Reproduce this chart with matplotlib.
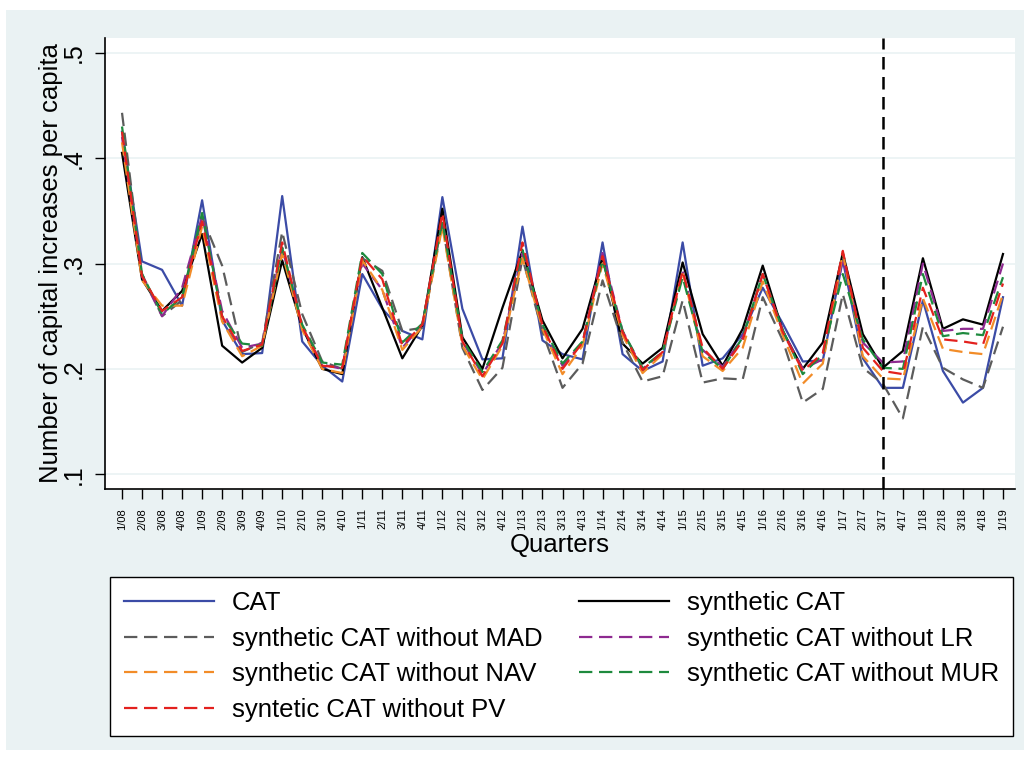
import matplotlib
matplotlib.use("Agg")
from matplotlib import pyplot as plt
from matplotlib.patches import Rectangle

plt.rcParams['font.family'] = ['Liberation Sans', 'DejaVu Sans']

quarters = ['1/08', '2/08', '3/08', '4/08', '1/09', '2/09', '3/09', '4/09',
            '1/10', '2/10', '3/10', '4/10', '1/11', '2/11', '3/11', '4/11',
            '1/12', '2/12', '3/12', '4/12', '1/13', '2/13', '3/13', '4/13',
            '1/14', '2/14', '3/14', '4/14', '1/15', '2/15', '3/15', '4/15',
            '1/16', '2/16', '3/16', '4/16', '1/17', '2/17', '3/17', '4/17',
            '1/18', '2/18', '3/18', '4/18', '1/19']

cat = [.425, .302, .294, .260, .360, .246, .214, .215, .364, .226, .203, .188,
       .290, .257, .236, .228, .363, .257, .209, .210, .335, .227, .214, .209,
       .320, .214, .198, .207, .320, .203, .210, .233, .277, .243, .207, .208,
       .303, .210, .182, .182, .265, .198, .168, .182, .268]
synth = [.405, .285, .255, .274, .328, .222, .206, .220, .303, .239, .200, .195,
         .306, .258, .210, .241, .352, .230, .200, .258, .312, .246, .210, .238,
         .306, .224, .205, .220, .301, .233, .203, .238, .298, .236, .200, .225,
         .310, .233, .201, .217, .305, .238, .247, .242, .309]
no_mad = [.443, .290, .250, .265, .344, .298, .216, .225, .330, .252, .207, .200,
          .305, .293, .236, .239, .338, .220, .180, .201, .305, .235, .182, .205,
          .284, .225, .188, .193, .265, .187, .191, .190, .268, .227, .168, .181,
          .271, .201, .186, .153, .240, .201, .190, .182, .240]
no_lr = [.420, .288, .250, .277, .345, .255, .220, .224, .315, .240, .204, .200,
         .300, .275, .220, .242, .340, .226, .195, .225, .310, .240, .203, .225,
         .310, .236, .200, .216, .293, .218, .202, .230, .290, .236, .200, .209,
         .305, .225, .206, .207, .300, .236, .238, .238, .300]
no_nav = [.415, .284, .260, .260, .335, .245, .212, .222, .310, .237, .200, .196,
          .303, .275, .218, .240, .335, .222, .190, .222, .305, .238, .195, .222,
          .300, .232, .196, .214, .292, .212, .198, .220, .283, .232, .186, .205,
          .310, .212, .191, .190, .267, .219, .216, .214, .271]
no_mur = [.430, .290, .252, .268, .348, .250, .224, .222, .315, .242, .206, .204,
          .310, .290, .225, .243, .340, .228, .197, .227, .313, .242, .205, .226,
          .303, .236, .201, .216, .287, .216, .200, .230, .290, .237, .195, .214,
          .290, .228, .201, .200, .290, .231, .234, .232, .287]
no_pv = [.425, .288, .255, .268, .340, .250, .217, .223, .320, .240, .203, .201,
         .307, .285, .222, .242, .348, .226, .193, .224, .320, .241, .200, .225,
         .307, .235, .199, .216, .293, .220, .200, .227, .290, .235, .198, .215,
         .312, .220, .198, .195, .277, .228, .226, .223, .281]

treat_idx = quarters.index('3/17')
x = list(range(len(quarters)))

W, H = 1032, 758
fig = plt.figure(figsize=(W / 100, H / 100), dpi=100, facecolor='white')
fig.patches.append(Rectangle((6 / W, 8 / H), 1018 / W, 740 / H, transform=fig.transFigure,
                             facecolor='#EAF2F3', edgecolor='none', zorder=-10))

ax = fig.add_axes([105 / W, 1 - 489 / H, 910 / W, 451 / H])
ax.set_facecolor('white')

lw = 1.6
dash = (6, 3)
h_cat, = ax.plot(x, cat, color='#3B4BA6', lw=lw, label='CAT')
h_syn, = ax.plot(x, synth, color='black', lw=lw, label='synthetic CAT')
h_mad, = ax.plot(x, no_mad, color='#5C5C5C', lw=lw, dashes=dash, label='synthetic CAT without MAD')
h_lr, = ax.plot(x, no_lr, color='#8E2A90', lw=lw, dashes=dash, label='synthetic CAT without LR')
h_nav, = ax.plot(x, no_nav, color='#F28C28', lw=lw, dashes=dash, label='synthetic CAT without NAV')
h_mur, = ax.plot(x, no_mur, color='#1E8A3E', lw=lw, dashes=dash, label='synthetic CAT without MUR')
h_pv, = ax.plot(x, no_pv, color='#E3211E', lw=lw, dashes=dash, label='syntetic CAT without PV')

ax.axvline(treat_idx, color='black', lw=1.8, dashes=(5, 3))

ax.set_xlim(-0.85, 44.6)
ax.set_ylim(0.086, 0.514)
ax.set_yticks([.1, .2, .3, .4, .5])
ax.set_yticklabels(['.1', '.2', '.3', '.4', '.5'], rotation=90, va='center', fontsize=18)
ax.set_xticks(x)
ax.set_xticklabels(quarters, rotation=90, fontsize=8)
ax.tick_params(axis='both', direction='out', length=7, width=1, color='black')
ax.tick_params(axis='y', pad=7)
ax.tick_params(axis='x', pad=7)
ax.grid(axis='y', color='#EAF2F3', lw=1.2)
ax.set_axisbelow(True)
for s in ['top', 'right']:
    ax.spines[s].set_visible(False)
for s in ['left', 'bottom']:
    ax.spines[s].set_linewidth(1.2)

ax.set_ylabel('Number of capital increases per capita', fontsize=18.5, labelpad=-1)
ax.set_xlabel('Quarters', fontsize=18.5, labelpad=2)

# legend fills column by column, so order handles to read row by row
handles = [h_cat, h_mad, h_nav, h_pv, h_syn, h_lr, h_mur]
leg = fig.legend(handles=handles, loc='upper left', ncol=2,
                 bbox_to_anchor=(110 / W, 1 - 577 / H),
                 fontsize=18.5, frameon=True, fancybox=False, edgecolor='black',
                 framealpha=1, handlelength=3.5, handletextpad=0.7,
                 columnspacing=1.4, labelspacing=0.45, borderpad=0.55,
                 borderaxespad=0)
leg.get_frame().set_linewidth(1.0)

fig.savefig('out.png', dpi=100, facecolor=fig.get_facecolor())
